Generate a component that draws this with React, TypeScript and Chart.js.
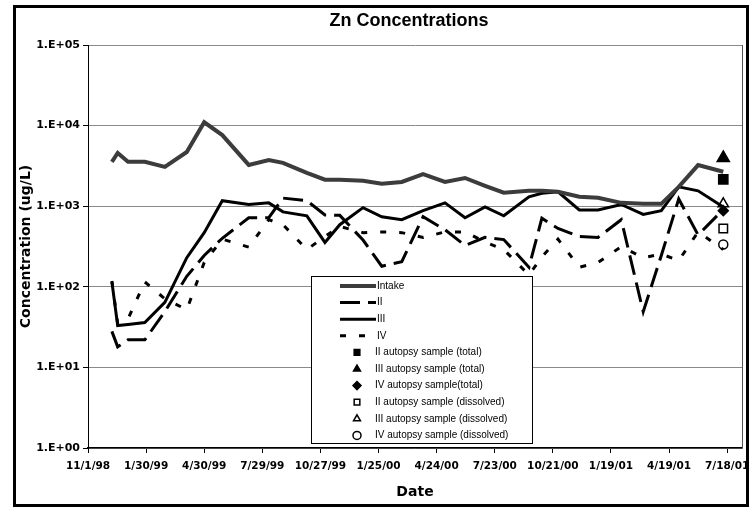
import React, { useEffect, useRef } from "react";
import { Chart, registerables } from "chart.js";
import { drawPoint } from "chart.js/helpers";

Chart.register(...registerables);

const chartTitle = "Zn Concentrations";
const xAxisTitle = "Date";
const yAxisTitle = "Concentration (ug/L)";
const originDate = "11/1/98";

const xTickLabels = ["11/1/98", "1/30/99", "4/30/99", "7/29/99", "10/27/99", "1/25/00", "4/24/00", "7/23/00", "10/21/00", "1/19/01", "4/19/01", "7/18/01"];
const yTickValues = [1, 10, 100, 1000, 10000, 100000];
const yTickLabels = ["1.E+00", "1.E+01", "1.E+02", "1.E+03", "1.E+04", "1.E+05"];

const sampleDates = ["12/8/98", "12/17/98", "1/2/99", "1/28/99", "2/28/99", "4/3/99", "4/30/99", "5/28/99", "7/8/99", "8/8/99", "8/30/99", "10/6/99", "11/3/99", "11/26/99", "1/1/00", "1/30/00", "3/1/00", "4/3/00", "5/7/00", "6/7/00", "7/8/00", "8/6/00", "9/14/00", "10/4/00", "10/29/00", "12/1/00", "12/30/00", "2/4/01", "3/10/01", "4/7/01", "5/4/01", "6/3/01", "7/12/01"];

const intake = [3550, 4570, 3550, 3550, 3080, 4700, 11000, 7630, 3250, 3740, 3450, 2590, 2130, 2130, 2070, 1900, 2000, 2500, 2000, 2240, 1790, 1470, 1550, 1550, 1510, 1310, 1270, 1100, 1070, 1070, 1740, 3240, 2680];
const seriesII = [28, 18, 22, 22, 49, 135, 245, 400, 720, 720, 1260, 1170, 780, 770, 380, 180, 205, 740, 510, 325, 410, 385, 175, 710, 530, 420, 410, 680, 49, 245, 1230, 440, 910];
const seriesIII = [115, 33, 34, 36, 64, 230, 470, 1170, 1050, 1100, 850, 760, 355, 590, 960, 740, 680, 880, 1100, 720, 980, 760, 1310, 1450, 1510, 900, 900, 1050, 790, 880, 1740, 1550, 980];
const seriesIV = [118, 35, 40, 115, 71, 52, 200, 390, 310, 680, 590, 290, 420, 560, 470, 480, 470, 410, 480, 480, 360, 290, 140, 235, 390, 175, 200, 315, 230, 255, 212, 480, 290];

const autopsyDate = "7/12/01";
const autopsyLabels = [
  "II autopsy sample (total)",
  "III autopsy sample (total)",
  "IV autopsy sample(total)",
  "II autopsy sample (dissolved)",
  "III autopsy sample (dissolved)",
  "IV autopsy sample (dissolved)",
];
const autopsyValues = [2150, 3970, 880, 530, 1070, 335];

const lineLabels = ["Intake", "II", "III", "IV"];

function toDay(s: string): number {
  const parse = (t: string) => {
    const [m, d, y] = t.split("/").map(Number);
    const yr = y < 50 ? 2000 + y : 1900 + y;
    return Date.UTC(yr, m - 1, d);
  };
  return Math.round((parse(s) - parse(originDate)) / 86400000);
}

const lineStyles = [
  { color: "#3c3c3c", width: 4, dash: [] as number[] },
  { color: "#000000", width: 3, dash: [20, 8] },
  { color: "#000000", width: 3, dash: [] as number[] },
  { color: "#000000", width: 3, dash: [6, 13] },
];
const markerStyles = [
  { style: "rect", filled: true, radius: 6.5 },
  { style: "triangle", filled: true, radius: 7 },
  { style: "rectRot", filled: true, radius: 5 },
  { style: "rect", filled: false, radius: 6 },
  { style: "triangle", filled: false, radius: 6 },
  { style: "circle", filled: false, radius: 4.5 },
];

const decorPlugin = {
  id: "decor",
  beforeDraw(chart: any) {
    const ctx = chart.ctx;
    ctx.save();
    ctx.fillStyle = "#ffffff";
    ctx.fillRect(0, 0, chart.width, chart.height);
    ctx.restore();
  },
  afterDraw(chart: any) {
    const ctx = chart.ctx;
    const a = chart.chartArea;
    ctx.save();
    // plot right border
    ctx.strokeStyle = "#555555";
    ctx.lineWidth = 1;
    ctx.beginPath();
    ctx.moveTo(a.right + 0.5, a.top);
    ctx.lineTo(a.right + 0.5, a.bottom);
    ctx.stroke();

    // title
    ctx.fillStyle = "#000";
    ctx.font = 'bold 18px "Liberation Sans"';
    ctx.textAlign = "center";
    ctx.textBaseline = "middle";
    ctx.fillText(chartTitle, (a.left + a.right) / 2 - 6, 21);

    // outer frame
    ctx.strokeStyle = "#000";
    ctx.lineWidth = 3;
    ctx.strokeRect(14.5, 6.5, 733, 499);

    // legend
    const lx = 311, ly = 276, lw = 221, lh = 167;
    ctx.fillStyle = "#ffffff";
    ctx.fillRect(lx, ly, lw, lh);
    ctx.strokeStyle = "#000";
    ctx.lineWidth = 1;
    ctx.strokeRect(lx + 0.5, ly + 0.5, lw, lh);
    const rowY0 = 286, step = 16.6;
    ctx.font = '10px "Liberation Sans"';
    ctx.textAlign = "left";
    ctx.textBaseline = "middle";
    chart.data.datasets.forEach((ds: any, i: number) => {
      const y = rowY0 + i * step;
      if (i < 4) {
        ctx.save();
        ctx.strokeStyle = ds.borderColor;
        ctx.lineWidth = ds.borderWidth;
        ctx.setLineDash(ds.borderDash || []);
        ctx.beginPath();
        ctx.moveTo(340, y);
        ctx.lineTo(376, y);
        ctx.stroke();
        ctx.restore();
        ctx.fillStyle = "#000";
        ctx.fillText(ds.label, 377, y);
      } else {
        ctx.save();
        ctx.fillStyle = ds.backgroundColor;
        ctx.strokeStyle = "#000";
        ctx.lineWidth = 1.5;
        drawPoint(ctx, { pointStyle: ds.pointStyle, rotation: 0, radius: 4, borderWidth: 1.5 } as any, 357, y);
        ctx.restore();
        ctx.fillStyle = "#000";
        ctx.fillText(ds.label, 375, y);
      }
    });
    ctx.restore();
  },
};

export default function App() {
  const ref = useRef<HTMLCanvasElement | null>(null);
  useEffect(() => {
    document.body.style.margin = "0";
    document.body.style.overflow = "hidden";
    const canvas = ref.current!;
    const lineSeries = [intake, seriesII, seriesIII, seriesIV];
    const datasets: any[] = lineSeries.map((vals, k) => ({
      type: "line",
      label: lineLabels[k],
      data: sampleDates.map((d, i) => ({ x: toDay(d), y: vals[i] })),
      borderColor: lineStyles[k].color,
      borderWidth: lineStyles[k].width,
      borderDash: lineStyles[k].dash,
      pointRadius: 0,
      tension: 0,
      fill: false,
    }));
    autopsyValues.forEach((v, k) => {
      const m = markerStyles[k];
      datasets.push({
        type: "line",
        label: autopsyLabels[k],
        data: [{ x: toDay(autopsyDate), y: v }],
        showLine: false,
        pointStyle: m.style,
        pointRadius: m.radius,
        backgroundColor: m.filled ? "#000000" : "#ffffff",
        borderColor: "#000000",
        pointBorderWidth: 1.5,
        borderWidth: 1.5,
      });
    });
    const xFont = { family: '"DejaVu Sans"', size: 10.5, weight: "bold" as const };
    const yFont = { family: '"DejaVu Sans"', size: 11, weight: "bold" as const };
    const chart = new Chart(canvas, {
      type: "line",
      data: { datasets },
      plugins: [decorPlugin],
      options: {
        animation: false,
        responsive: false,
        devicePixelRatio: 1,
        layout: { padding: { left: 14, right: 10, top: 45, bottom: 8 } },
        plugins: {
          legend: { display: false },
          title: { display: false },
          tooltip: { enabled: false },
        },
        scales: {
          x: {
            type: "linear",
            min: 0,
            max: 1013,
            afterBuildTicks: (ax: any) => {
              ax.ticks = xTickLabels.map((l) => ({ value: toDay(l) }));
            },
            afterFit: (ax: any) => {
              ax.height = 53;
              ax.paddingLeft = 0;
              ax.paddingRight = 0;
            },
            ticks: {
              autoSkip: false,
              maxRotation: 0,
              padding: 7,
              color: "#000",
              font: xFont,
              callback: (v: any) => {
                const idx = xTickLabels.findIndex((l) => toDay(l) === v);
                return idx >= 0 ? xTickLabels[idx] : "";
              },
            },
            grid: { drawOnChartArea: false, drawTicks: true, tickLength: 5, tickColor: "#000" },
            border: { color: "#000", width: 1.5 },
            title: {
              display: true,
              text: xAxisTitle,
              color: "#000",
              font: { family: '"DejaVu Sans"', size: 14, weight: "bold" },
              padding: { top: 0, bottom: 0 },
            },
          },
          y: {
            type: "logarithmic",
            min: 1,
            max: 100000,
            afterBuildTicks: (ax: any) => {
              ax.ticks = yTickValues.map((v) => ({ value: v }));
            },
            afterFit: (ax: any) => {
              ax.width = 74;
              ax.paddingTop = 0;
              ax.paddingBottom = 0;
            },
            ticks: {
              padding: 3,
              color: "#000",
              font: yFont,
              callback: (v: any) => {
                const idx = yTickValues.indexOf(Number(v));
                return idx >= 0 ? yTickLabels[idx] : "";
              },
            },
            grid: { color: "#8a8a8a", lineWidth: 1, tickColor: "#000", tickLength: 5 },
            border: { color: "#000", width: 1 },
            title: {
              display: true,
              text: yAxisTitle,
              color: "#000",
              font: { family: '"DejaVu Sans"', size: 14, weight: "bold" },
              padding: { top: 4, bottom: 0 },
            },
          },
        },
      } as any,
    });
    return () => chart.destroy();
  }, []);
  return <canvas ref={ref} width={752} height={509} style={{ display: "block" }} />;
}
